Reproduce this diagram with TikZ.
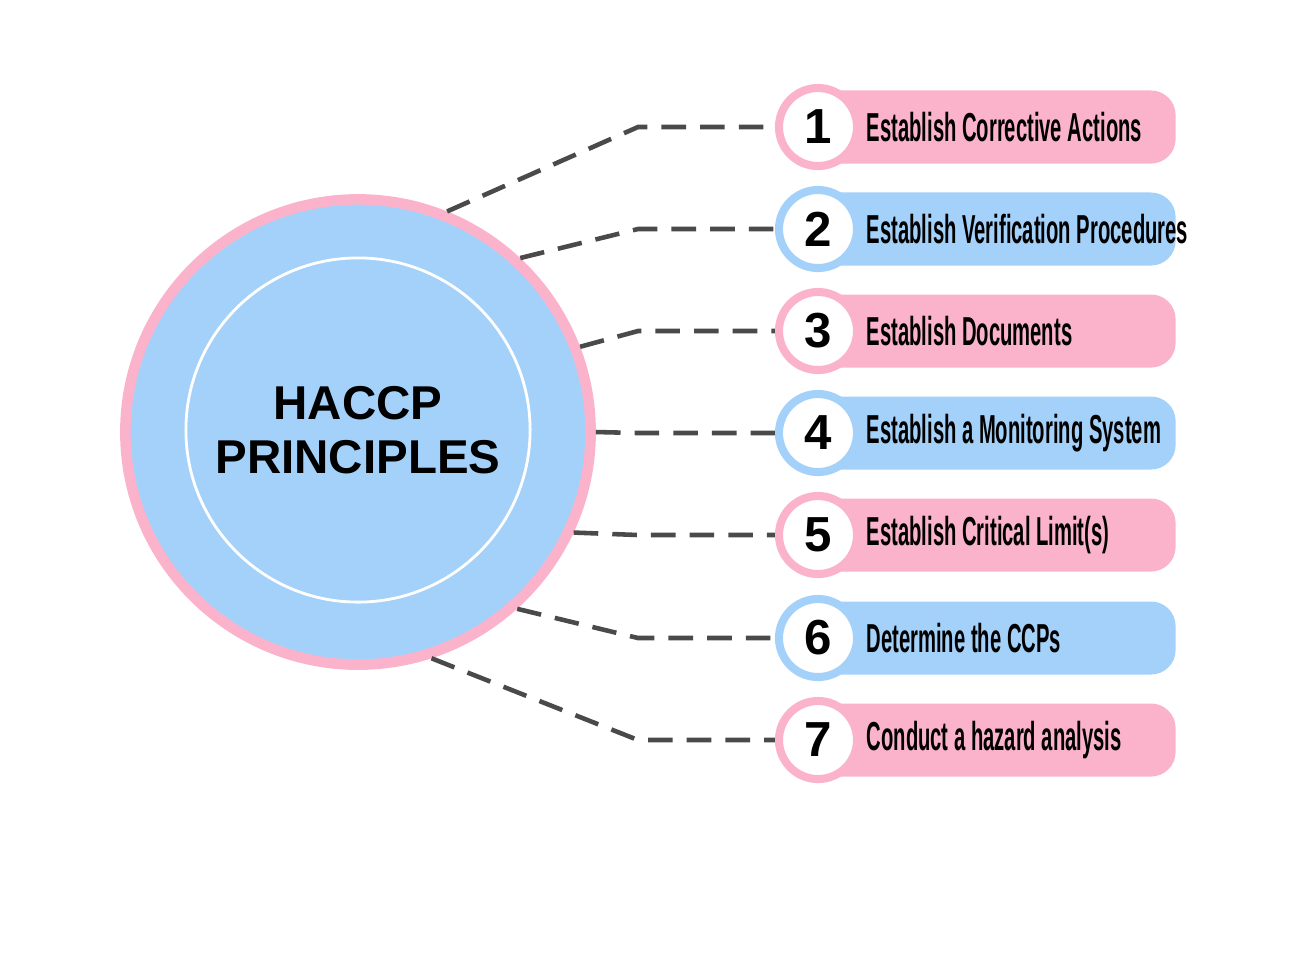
\documentclass[tikz,border=0pt]{standalone}
\usepackage{fontspec}
\setmainfont{Liberation Sans}
\newfontfamily\narrowfont[FakeStretch=0.5]{Liberation Sans}
\usetikzlibrary{positioning,calc}
\definecolor{pinkc}{HTML}{FBB3CB}
\definecolor{bluec}{HTML}{A3D1FA}
\definecolor{dashc}{HTML}{4A4A4A}

\begin{document}
\begin{tikzpicture}[x=0.01cm,y=-0.01cm,
    label/.style={rectangle, rounded corners=7pt, minimum width=3.95cm, minimum height=0.73cm, inner sep=0pt},
    num/.style={circle, draw, line width=2.3pt, fill=white, minimum size=0.78cm, inner sep=0pt, font=\bfseries\fontsize{14}{14}\selectfont},
    link/.style={dashed, dash pattern=on 7pt off 4pt, line width=1.3pt, draw=dashc}
]
\useasboundingbox (0,0) rectangle (1300,956);

\node[circle, fill=bluec, draw=pinkc, line width=3pt, minimum size=4.65cm] (haccp) at (358,432) {};
\node[circle, draw=white, line width=0.8pt, minimum size=3.44cm, align=center,
      font=\bfseries\fontsize{13.5}{15.5}\selectfont] (title) at (358,430) {HACCP\\PRINCIPLES};

\foreach \i/\y/\col/\ang/\txt in {
    1/127/pinkc/68/Establish Corrective Actions,
    2/229/bluec/47/Establish Verification Procedures,
    3/331/pinkc/21/Establish Documents,
    4/433/bluec/0/Establish a Monitoring System,
    5/535/pinkc/-25/Establish Critical Limit(s),
    6/638/bluec/-48/Determine the CCPs,
    7/740/pinkc/-72/Conduct a hazard analysis} {
  \node[label, fill=\col] (box\i) at (978,\y) {};
  \node[num, draw=\col] (num\i) at (818,\y) {\i};
  \node[anchor=west, inner sep=0pt, font=\narrowfont\bfseries\fontsize{11.5}{12}\selectfont] (txt\i) at (866,\y) {\txt};
  \coordinate (bend\i) at (638,\y);
  \draw[link] (haccp.\ang) -- (bend\i) -- (num\i.west);
}
\end{tikzpicture}
\end{document}
